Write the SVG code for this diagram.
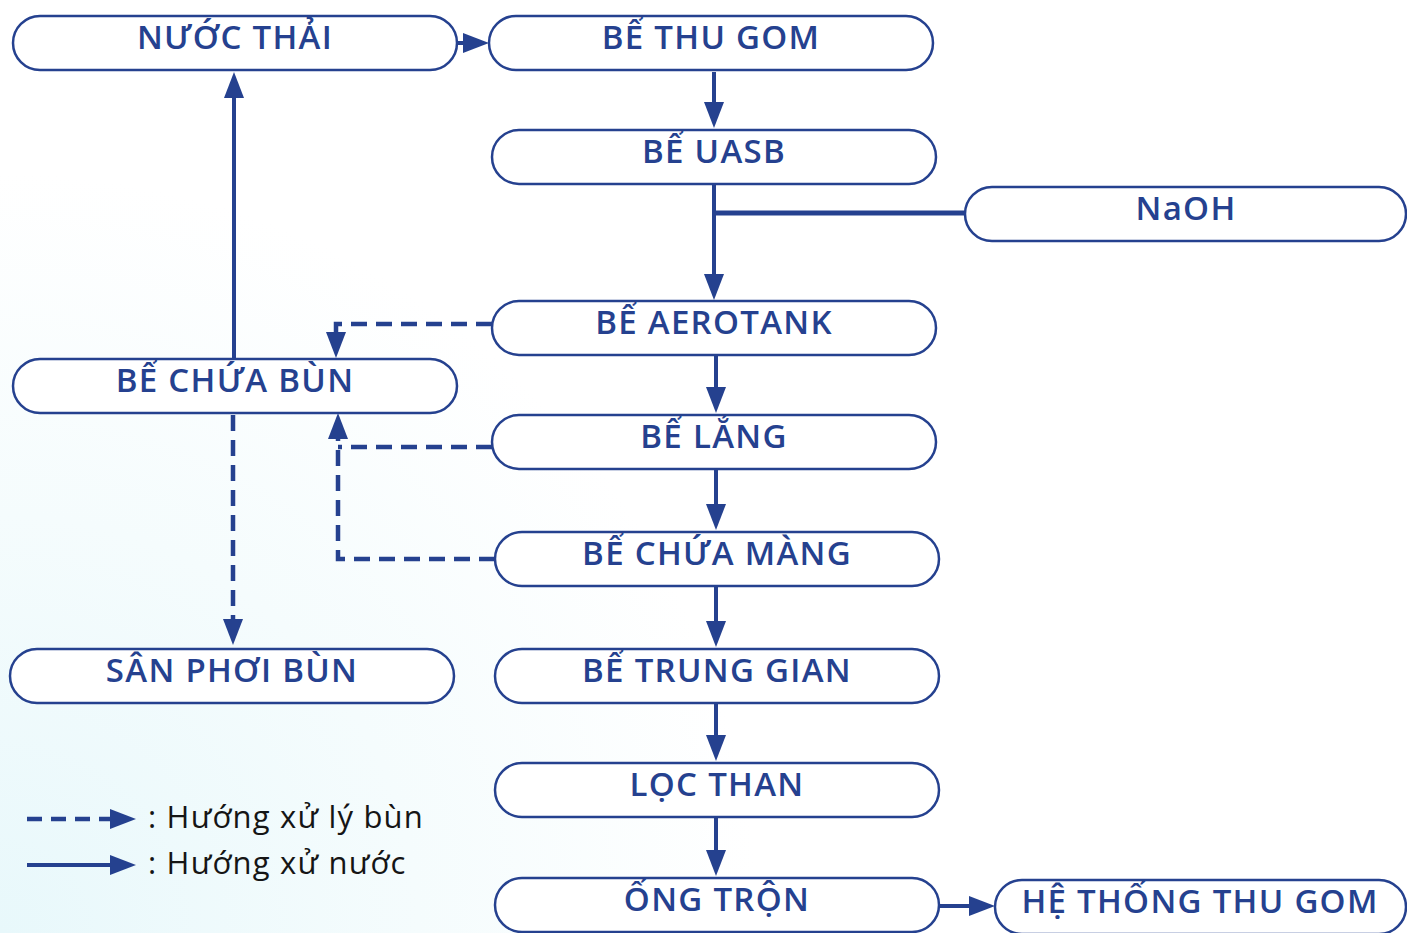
<svg xmlns="http://www.w3.org/2000/svg" width="1407" height="933" viewBox="0 0 1407 933">
<defs>
<radialGradient id="bg" cx="0" cy="933" r="760" gradientUnits="userSpaceOnUse">
<stop offset="0" stop-color="#e8f8fb"/>
<stop offset="0.55" stop-color="#f5fcfd"/>
<stop offset="1" stop-color="#ffffff"/>
</radialGradient>
<marker id="ah" viewBox="0 0 26 20" refX="16" refY="10" markerWidth="26" markerHeight="20" markerUnits="userSpaceOnUse" orient="auto">
<path d="M0,0 L26,10 L0,20 Z" fill="#25418f"/>
</marker>
<style>
.n rect{fill:#fff;stroke:#25418f;stroke-width:2.5}
.n text{font-family:"Open Sans","Noto Sans","DejaVu Sans",sans-serif;font-weight:600;font-size:33px;letter-spacing:1.3px;fill:#25418f;text-anchor:middle}
.c{fill:none;stroke:#25418f;stroke-width:4}
.d{stroke-dasharray:16 9;stroke-width:4.5}
.lg{font-family:"Open Sans","Noto Sans","DejaVu Sans",sans-serif;font-size:31px;letter-spacing:1.2px;fill:#151515}
</style>
</defs>
<rect width="1407" height="933" fill="url(#bg)"/>
<g id="connectors">
<line class="c" x1="457" y1="43" x2="479" y2="43" marker-end="url(#ah)"/>
<line class="c" x1="714" y1="72" x2="714" y2="118" marker-end="url(#ah)"/>
<line class="c" x1="714" y1="184" x2="714" y2="290" marker-end="url(#ah)"/>
<line class="c" x1="714" y1="213" x2="965" y2="213" style="stroke-width:5"/>
<line class="c" x1="716" y1="355" x2="716" y2="403" marker-end="url(#ah)"/>
<line class="c" x1="716" y1="470" x2="716" y2="520" marker-end="url(#ah)"/>
<line class="c" x1="716" y1="587" x2="716" y2="637" marker-end="url(#ah)"/>
<line class="c" x1="716" y1="704" x2="716" y2="751" marker-end="url(#ah)"/>
<line class="c" x1="716" y1="818" x2="716" y2="866" marker-end="url(#ah)"/>
<line class="c" x1="939" y1="906" x2="985" y2="906" marker-end="url(#ah)"/>
<line class="c" x1="234" y1="359" x2="234" y2="82" marker-end="url(#ah)"/>
<path class="c d" d="M492,324 H336 V348" marker-end="url(#ah)"/>
<path class="c d" d="M492,447 H338"/>
<path class="c d" d="M495,559 H338 V423" marker-end="url(#ah)"/>
<path class="c d" d="M233,415 V635" marker-end="url(#ah)"/>
</g>
<g id="n1" class="n"><rect x="13" y="16" width="444" height="54" rx="27"/><text x="235" y="49">NƯỚC THẢI</text></g>
<g id="n2" class="n"><rect x="489" y="16" width="444" height="54" rx="27"/><text x="711" y="49">BỂ THU GOM</text></g>
<g id="n3" class="n"><rect x="492" y="130" width="444" height="54" rx="27"/><text x="714" y="163">BỂ UASB</text></g>
<g id="n4" class="n"><rect x="965" y="187" width="441" height="54" rx="27"/><text x="1186" y="220">NaOH</text></g>
<g id="n5" class="n"><rect x="492" y="301" width="444" height="54" rx="27"/><text x="714" y="334">BỂ AEROTANK</text></g>
<g id="n6" class="n"><rect x="13" y="359" width="444" height="54" rx="27"/><text x="235" y="392">BỂ CHỨA BÙN</text></g>
<g id="n7" class="n"><rect x="492" y="415" width="444" height="54" rx="27"/><text x="714" y="448">BỂ LẮNG</text></g>
<g id="n8" class="n"><rect x="495" y="532" width="444" height="54" rx="27"/><text x="717" y="565">BỂ CHỨA MÀNG</text></g>
<g id="n9" class="n"><rect x="10" y="649" width="444" height="54" rx="27"/><text x="232" y="682">SÂN PHƠI BÙN</text></g>
<g id="n10" class="n"><rect x="495" y="649" width="444" height="54" rx="27"/><text x="717" y="682">BỂ TRUNG GIAN</text></g>
<g id="n11" class="n"><rect x="495" y="763" width="444" height="54" rx="27"/><text x="717" y="796">LỌC THAN</text></g>
<g id="n12" class="n"><rect x="495" y="878" width="444" height="54" rx="27"/><text x="717" y="911">ỐNG TRỘN</text></g>
<g id="n13" class="n"><rect x="995" y="880" width="411" height="54" rx="27"/><text x="1200" y="913">HỆ THỐNG THU GOM</text></g>
<g id="legend">
<line class="c d" x1="27" y1="819" x2="126" y2="819" marker-end="url(#ah)" style="stroke-dasharray:15 9"/>
<text class="lg" x="148" y="828">: Hướng xử lý bùn</text>
<line class="c" x1="27" y1="865" x2="126" y2="865" marker-end="url(#ah)"/>
<text class="lg" x="148" y="874">: Hướng xử nước</text>
</g>
</svg>
